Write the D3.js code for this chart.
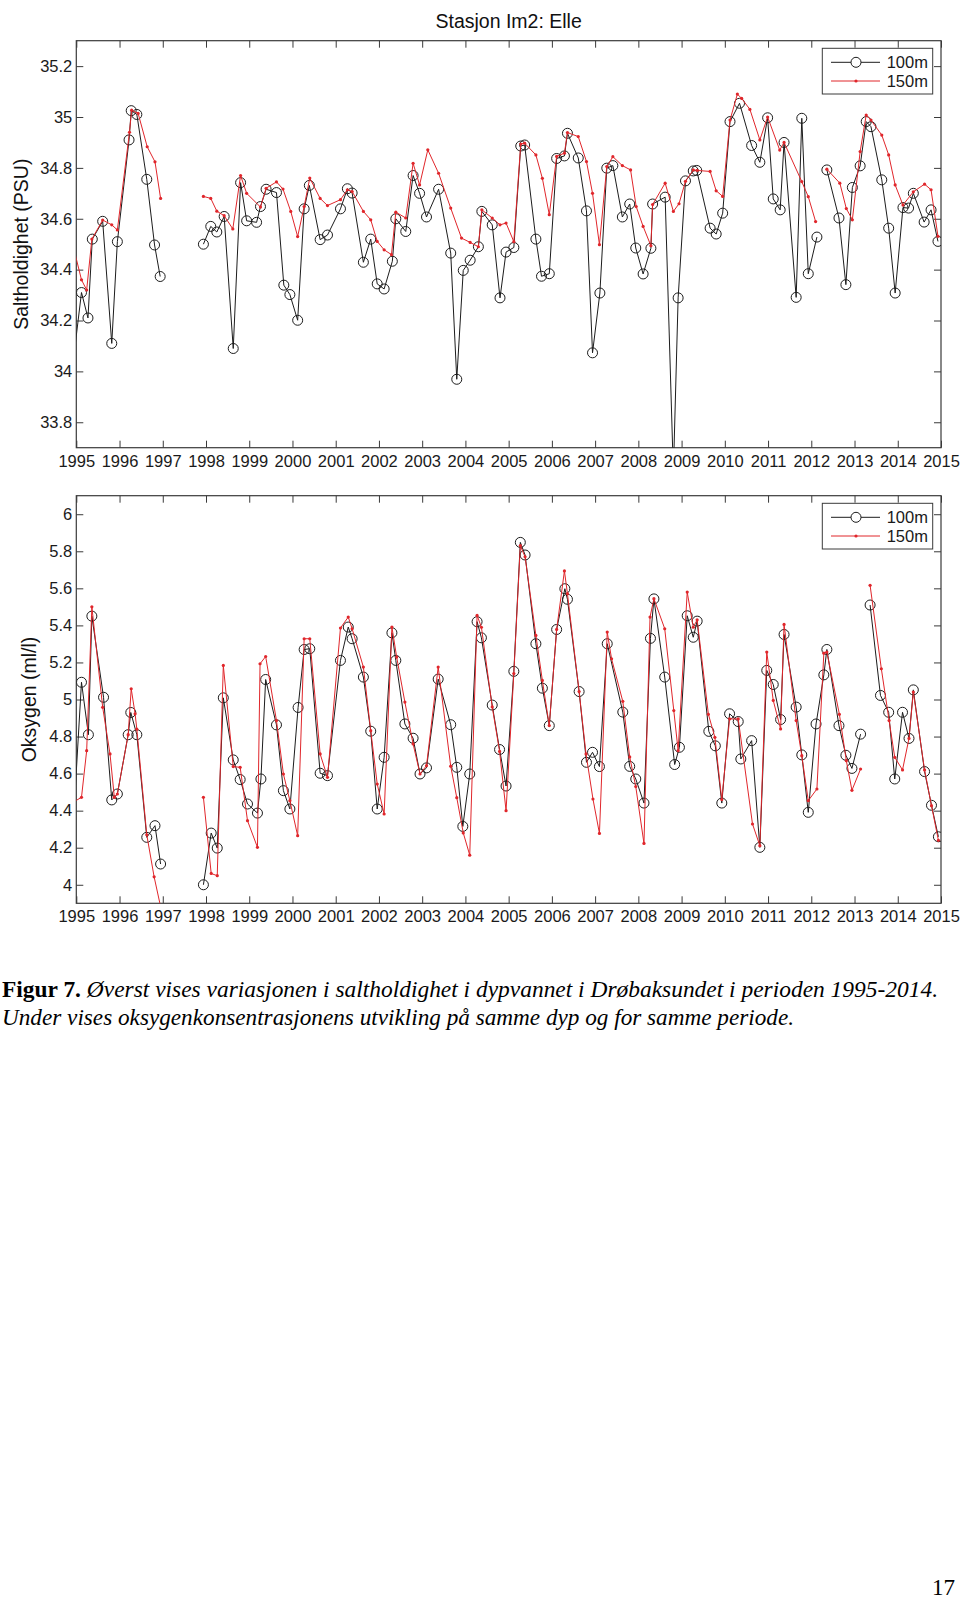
<!DOCTYPE html>
<html><head><meta charset="utf-8">
<script src="https://cdn.jsdelivr.net/npm/d3@7"></script>
<style>body{margin:0;background:#fff;} svg{display:block;}</style>
</head><body>
<svg id="c" width="960" height="1599"></svg>
<script>
// ---------- DATA ----------
const title = "Stasjon Im2: Elle";
const seriesNames = ["100m", "150m"];
const yearTicks = d3.range(1995, 2016);
const saltTicks = [33.8, 34, 34.2, 34.4, 34.6, 34.8, 35, 35.2];
const saltTickLabels = ["33.8", "34", "34.2", "34.4", "34.6", "34.8", "35", "35.2"];
const oxyTicks = [4, 4.2, 4.4, 4.6, 4.8, 5, 5.2, 5.4, 5.6, 5.8, 6];
const oxyTickLabels = ["4", "4.2", "4.4", "4.6", "4.8", "5", "5.2", "5.4", "5.6", "5.8", "6"];

// [decimal year, value]; null = gap in the record
const salt100 = [
  [1994.95,34.07],[1995.12,34.31],[1995.27,34.21],[1995.37,34.52],[1995.61,34.59],[1995.82,34.11],
  [1995.95,34.51],[1996.22,34.91],[1996.27,35.025],[1996.40,35.01],[1996.63,34.755],[1996.81,34.497],
  [1996.94,34.373], null,
  [1997.94,34.50],[1998.11,34.57],[1998.25,34.548],[1998.42,34.609],[1998.63,34.09],[1998.80,34.742],
  [1998.94,34.592],[1999.17,34.586],[1999.26,34.648],[1999.39,34.716],[1999.63,34.703],[1999.80,34.339],
  [1999.94,34.302],[2000.12,34.201],[2000.27,34.639],[2000.39,34.731],[2000.64,34.518],[2000.81,34.536],
  [2001.11,34.639],[2001.27,34.718],[2001.38,34.701],[2001.64,34.429],[2001.81,34.52],[2001.96,34.344],
  [2002.12,34.324],[2002.31,34.433],[2002.39,34.60],[2002.62,34.55],[2002.79,34.77],[2002.94,34.70],
  [2003.10,34.607],[2003.38,34.716],[2003.66,34.465],[2003.80,33.969],[2003.95,34.397],[2004.11,34.437],
  [2004.30,34.49],[2004.38,34.629],[2004.62,34.576],[2004.80,34.289],[2004.94,34.469],[2005.12,34.487],
  [2005.28,34.886],[2005.37,34.89],[2005.63,34.52],[2005.76,34.374],[2005.94,34.384],[2006.11,34.837],
  [2006.29,34.847],[2006.36,34.936],[2006.61,34.839],[2006.80,34.631],[2006.94,34.073],[2007.11,34.308],
  [2007.27,34.799],[2007.41,34.809],[2007.63,34.607],[2007.80,34.658],[2007.94,34.485],[2008.11,34.383],
  [2008.29,34.484],[2008.33,34.658],[2008.62,34.685],[2008.81,33.60],[2008.92,34.289],[2009.09,34.749],
  [2009.27,34.788],[2009.35,34.79],[2009.66,34.563],[2009.80,34.54],[2009.95,34.622],[2010.12,34.982],
  [2010.34,35.054],[2010.62,34.888],[2010.81,34.822],[2010.99,34.997],[2011.12,34.678],[2011.28,34.635],
  [2011.37,34.90],[2011.65,34.291],[2011.78,34.995],[2011.93,34.384],[2012.13,34.528], null,
  [2012.36,34.792],[2012.64,34.603],[2012.80,34.341],[2012.95,34.723],[2013.13,34.808],[2013.27,34.982],
  [2013.38,34.962],[2013.63,34.753],[2013.79,34.563],[2013.94,34.308],[2014.12,34.644],[2014.25,34.642],
  [2014.36,34.70],[2014.61,34.587],[2014.77,34.635],[2014.93,34.511]
];
const salt150 = [
  [1994.96,34.47],[1995.12,34.36],[1995.24,34.32],[1995.36,34.52],[1995.61,34.595],[1995.82,34.576],
  [1995.95,34.556],[1996.23,34.94],[1996.28,35.027],[1996.43,35.014],[1996.64,34.883],[1996.82,34.824],
  [1996.95,34.68], null,
  [1997.94,34.688],[1998.11,34.68],[1998.25,34.63],[1998.42,34.612],[1998.62,34.56],[1998.80,34.77],
  [1998.94,34.70],[1999.26,34.646],[1999.39,34.72],[1999.63,34.745],[1999.78,34.717],[1999.96,34.629],
  [2000.12,34.53],[2000.27,34.648],[2000.40,34.76],[2000.64,34.68],[2000.81,34.652],[2001.11,34.675],
  [2001.27,34.714],[2001.38,34.707],[2001.64,34.629],[2001.81,34.596],[2001.96,34.511],[2002.12,34.478],
  [2002.29,34.459],[2002.39,34.626],[2002.62,34.603],[2002.79,34.818],[2002.94,34.733],[2003.13,34.871],
  [2003.38,34.779],[2003.66,34.642],[2003.91,34.524],[2004.11,34.507],[2004.30,34.49],[2004.38,34.635],
  [2004.62,34.603],[2004.80,34.576],[2004.94,34.583],[2005.12,34.51],[2005.28,34.894],[2005.37,34.897],
  [2005.63,34.851],[2005.78,34.759],[2005.94,34.616],[2006.11,34.845],[2006.29,34.858],[2006.36,34.939],
  [2006.61,34.923],[2006.80,34.825],[2006.94,34.70],[2007.10,34.498],[2007.27,34.805],[2007.41,34.844],
  [2007.63,34.809],[2007.82,34.792],[2007.95,34.648],[2008.11,34.57],[2008.29,34.494],[2008.33,34.656],
  [2008.62,34.74],[2008.81,34.629],[2008.94,34.659],[2009.09,34.747],[2009.27,34.792],[2009.36,34.79],
  [2009.66,34.786],[2009.80,34.71],[2009.95,34.688],[2010.12,34.988],[2010.29,35.09],[2010.39,35.073],
  [2010.58,35.03],[2010.81,34.91],[2010.99,35.0],[2011.27,34.87],[2011.37,34.90],[2011.78,34.746],
  [2011.93,34.687],[2012.10,34.589], null,
  [2012.36,34.795],[2012.66,34.74],[2012.81,34.64],[2012.95,34.596],[2013.13,34.864],[2013.27,35.008],
  [2013.38,34.988],[2013.63,34.929],[2013.79,34.851],[2013.94,34.733],[2014.12,34.654],[2014.36,34.706],
  [2014.62,34.736],[2014.77,34.714],[2014.93,34.531]
];
const oxy100 = [
  [1994.96,4.45],[1995.12,5.093],[1995.28,4.81],[1995.36,5.45],[1995.63,5.012],[1995.82,4.458],
  [1995.95,4.49],[1996.20,4.81],[1996.26,4.93],[1996.40,4.81],[1996.63,4.256],[1996.82,4.319],
  [1996.95,4.112], null,
  [1997.94,4.00],[1998.12,4.279],[1998.26,4.198],[1998.40,5.009],[1998.63,4.674],[1998.79,4.568],
  [1998.96,4.436],[1999.19,4.387],[1999.27,4.571],[1999.38,5.108],[1999.63,4.863],[1999.79,4.508],
  [1999.94,4.409],[2000.13,4.957],[2000.27,5.27],[2000.40,5.274],[2000.64,4.602],[2000.81,4.589],
  [2001.11,5.211],[2001.29,5.391],[2001.38,5.328],[2001.64,5.121],[2001.81,4.829],[2001.96,4.409],
  [2002.12,4.688],[2002.30,5.36],[2002.39,5.211],[2002.60,4.868],[2002.79,4.791],[2002.95,4.598],
  [2003.10,4.631],[2003.37,5.11],[2003.66,4.864],[2003.80,4.634],[2003.94,4.315],[2004.10,4.598],
  [2004.27,5.42],[2004.37,5.333],[2004.62,4.97],[2004.79,4.73],[2004.94,4.533],[2005.12,5.152],
  [2005.27,5.848],[2005.38,5.78],[2005.63,5.301],[2005.78,5.061],[2005.94,4.859],[2006.11,5.378],
  [2006.30,5.598],[2006.36,5.541],[2006.63,5.043],[2006.80,4.661],[2006.94,4.715],[2007.10,4.638],
  [2007.28,5.301],[2007.64,4.932],[2007.80,4.639],[2007.94,4.571],[2008.13,4.441],[2008.28,5.33],
  [2008.36,5.543],[2008.61,5.121],[2008.84,4.649],[2008.95,4.742],[2009.13,5.452],[2009.27,5.336],
  [2009.36,5.423],[2009.63,4.828],[2009.78,4.75],[2009.93,4.441],[2010.11,4.923],[2010.31,4.881],
  [2010.37,4.679],[2010.62,4.778],[2010.81,4.202],[2010.97,5.157],[2011.12,5.081],[2011.29,4.892],
  [2011.37,5.351],[2011.65,4.959],[2011.78,4.701],[2011.93,4.391],[2012.11,4.868],[2012.29,5.133],
  [2012.36,5.27],[2012.64,4.859],[2012.80,4.699],[2012.94,4.628],[2013.14,4.813], null,
  [2013.36,5.51],[2013.60,5.022],[2013.79,4.931],[2013.93,4.571],[2014.11,4.931],[2014.26,4.79],
  [2014.36,5.052],[2014.62,4.611],[2014.78,4.429],[2014.94,4.259]
];
const oxy150 = [
  [1994.96,4.45],[1995.12,4.472],[1995.24,4.724],[1995.36,5.50],[1995.61,4.958],[1995.78,4.706],
  [1995.88,4.472],[1995.95,4.49],[1996.20,4.81],[1996.27,5.058],[1996.36,4.923],[1996.40,4.84],
  [1996.63,4.27],[1996.80,4.043],[1996.97,3.86], null,
  [1997.94,4.472],[1998.12,4.061],[1998.26,4.049],[1998.40,5.184],[1998.63,4.638],[1998.79,4.634],
  [1998.96,4.346],[1999.19,4.202],[1999.25,5.193],[1999.38,5.232],[1999.63,4.886],[1999.79,4.598],
  [1999.94,4.454],[2000.12,4.265],[2000.27,5.328],[2000.40,5.328],[2000.64,4.706],[2000.81,4.58],
  [2001.11,5.386],[2001.29,5.445],[2001.38,5.382],[2001.64,5.175],[2001.81,4.832],[2001.96,4.544],
  [2002.12,4.382],[2002.30,5.391],[2002.41,5.229],[2002.60,4.986],[2002.79,4.76],[2002.95,4.598],
  [2003.10,4.643],[2003.37,5.175],[2003.66,4.64],[2003.80,4.47],[2003.95,4.28],[2004.10,4.16],
  [2004.27,5.454],[2004.37,5.39],[2004.62,4.96],[2004.79,4.72],[2004.94,4.40],[2005.12,5.14],
  [2005.27,5.83],[2005.38,5.77],[2005.63,5.346],[2005.78,5.103],[2005.94,4.859],[2006.11,5.378],
  [2006.29,5.694],[2006.36,5.571],[2006.63,5.043],[2006.79,4.706],[2006.95,4.463],[2007.10,4.277],
  [2007.28,5.364],[2007.38,5.22],[2007.64,4.99],[2007.80,4.69],[2007.94,4.53],[2008.13,4.223],
  [2008.27,5.445],[2008.36,5.544],[2008.61,5.382],[2008.82,4.94],[2008.92,4.724],[2009.13,5.58],
  [2009.27,5.39],[2009.36,5.43],[2009.62,4.92],[2009.77,4.796],[2009.93,4.46],[2010.11,4.895],
  [2010.31,4.895],[2010.64,4.328],[2010.81,4.211],[2010.97,5.256],[2011.12,4.995],[2011.29,4.841],
  [2011.37,5.405],[2011.65,4.886],[2011.78,4.697],[2011.93,4.454],[2012.13,4.517],[2012.29,5.25],
  [2012.36,5.256],[2012.65,4.92],[2012.81,4.67],[2012.94,4.51],[2013.14,4.625], null,
  [2013.36,5.616],[2013.62,5.166],[2013.80,4.886],[2013.93,4.688],[2014.11,4.62],[2014.26,4.79],
  [2014.36,5.04],[2014.62,4.62],[2014.78,4.427],[2014.94,4.24]
];
const captionBold = "Figur 7.";
const captionLine1 = " Øverst vises variasjonen i saltholdighet i dypvannet i Drøbaksundet i perioden 1995-2014.";
const captionLine2 = "Under vises oksygenkonsentrasjonens utvikling på samme dyp og for samme periode.";
const pageNumber = "17";

// ---------- LAYOUT ----------
const svg = d3.select("#c");
const xLeft = 76.3, xRight = 941;
const x = d3.scaleLinear().domain([1995, 2015]).range([xLeft, xRight]);
const BLACK = "#1c1c1c", RED = "#e0262b", FRAME = "#3a3a3a";
const tickFont = "'Liberation Sans', Arial, sans-serif";
const inDomain = d => d && d[0] >= 1995 && d[0] <= 2015;

const panels = [
  {id: "p1", top: 40.7, bottom: 447.7, domain: [33.7, 35.3], ticks: saltTicks, labels: saltTickLabels,
   s100: salt100, s150: salt150, ylabel: "Saltholdighet (PSU)", ylabX: 28, xPad: 7.5},
  {id: "p2", top: 495.7, bottom: 903.3, domain: [3.9, 6.1], ticks: oxyTicks, labels: oxyTickLabels,
   s100: oxy100, s150: oxy150, ylabel: "Oksygen (ml/l)", ylabX: 36, xPad: 6.5}
];

svg.append("text").attr("x", (xLeft + xRight) / 2).attr("y", 28.3)
  .attr("text-anchor", "middle").attr("font-family", tickFont).attr("font-size", 19.5)
  .attr("fill", "#111").text(title);

panels.forEach(p => {
  const y = d3.scaleLinear().domain(p.domain).range([p.bottom, p.top]);
  const g = svg.append("g");
  g.append("clipPath").attr("id", "clip-" + p.id).append("rect")
    .attr("x", xLeft).attr("y", p.top).attr("width", xRight - xLeft).attr("height", p.bottom - p.top);

  // axes (inward ticks, mirrored)
  const ax = g.append("g").attr("font-family", tickFont);
  ax.append("g").attr("transform", `translate(0,${p.bottom})`)
    .call(d3.axisBottom(x).tickValues(yearTicks).tickFormat(d3.format("d")).tickSize(-7).tickSizeOuter(0).tickPadding(p.xPad));
  ax.append("g").attr("transform", `translate(0,${p.top})`)
    .call(d3.axisTop(x).tickValues(yearTicks).tickFormat("").tickSize(-7).tickSizeOuter(0));
  ax.append("g").attr("transform", `translate(${xLeft},0)`)
    .call(d3.axisLeft(y).tickValues(p.ticks).tickFormat((d, i) => p.labels[i]).tickSize(-7).tickSizeOuter(0).tickPadding(4));
  ax.append("g").attr("transform", `translate(${xRight},0)`)
    .call(d3.axisRight(y).tickValues(p.ticks).tickFormat("").tickSize(-7).tickSizeOuter(0));
  ax.selectAll(".domain").remove();
  ax.selectAll(".tick line").attr("stroke", FRAME).attr("stroke-width", 1);
  ax.selectAll(".tick text").attr("font-size", 16.5).attr("fill", "#1a1a1a");
  g.append("rect").attr("x", xLeft).attr("y", p.top).attr("width", xRight - xLeft).attr("height", p.bottom - p.top)
    .attr("fill", "none").attr("stroke", FRAME).attr("stroke-width", 1.2);

  // y label
  const cy = (p.top + p.bottom) / 2;
  g.append("text").attr("transform", `translate(${p.ylabX},${cy}) rotate(-90)`)
    .attr("text-anchor", "middle").attr("font-family", tickFont).attr("font-size", 19.5)
    .attr("fill", "#111").text(p.ylabel);

  // data
  const line = d3.line().defined(d => d !== null).x(d => x(d[0])).y(d => y(d[1]));
  const plot = g.append("g").attr("clip-path", `url(#clip-${p.id})`);
  plot.append("path").datum(p.s100).attr("d", line).attr("fill", "none")
    .attr("stroke", BLACK).attr("stroke-width", 1);
  plot.selectAll("circle.c100").data(p.s100.filter(inDomain)).join("circle").attr("class", "c100")
    .attr("cx", d => x(d[0])).attr("cy", d => y(d[1])).attr("r", 5)
    .attr("fill", "none").attr("stroke", BLACK).attr("stroke-width", 1);
  plot.append("path").datum(p.s150).attr("d", line).attr("fill", "none")
    .attr("stroke", RED).attr("stroke-width", 1);
  plot.selectAll("circle.c150").data(p.s150.filter(inDomain)).join("circle").attr("class", "c150")
    .attr("cx", d => x(d[0])).attr("cy", d => y(d[1])).attr("r", 1.6).attr("fill", RED);

  // legend
  const lx = 822.3, ly = p.top + 7.6, lw = 110.4, lh = 45.7;
  const lg = g.append("g");
  lg.append("rect").attr("x", lx).attr("y", ly).attr("width", lw).attr("height", lh)
    .attr("fill", "#fff").attr("stroke", FRAME).attr("stroke-width", 1);
  seriesNames.forEach((name, i) => {
    const yy = ly + 14 + i * 18.7;
    const col = i === 0 ? BLACK : RED;
    lg.append("line").attr("x1", lx + 8.7).attr("x2", lx + 57.7).attr("y1", yy).attr("y2", yy)
      .attr("stroke", col).attr("stroke-width", 1);
    if (i === 0) {
      lg.append("circle").attr("cx", lx + 33.7).attr("cy", yy).attr("r", 5)
        .attr("fill", "#fff").attr("stroke", col).attr("stroke-width", 1);
    } else {
      lg.append("circle").attr("cx", lx + 33.7).attr("cy", yy).attr("r", 1.6).attr("fill", col);
    }
    lg.append("text").attr("x", lx + 64.4).attr("y", yy).attr("dy", "0.35em")
      .attr("font-family", tickFont).attr("font-size", 16.5).attr("fill", "#1a1a1a").text(name);
  });
});

// caption
const serif = "'Liberation Serif', 'Times New Roman', serif";
const t1 = svg.append("text").attr("x", 2).attr("y", 997).attr("font-family", serif).attr("font-size", 24)
  .attr("fill", "#000").attr("textLength", 936).attr("lengthAdjust", "spacingAndGlyphs");
t1.append("tspan").attr("font-weight", "bold").text(captionBold);
t1.append("tspan").attr("font-style", "italic").text(captionLine1);
svg.append("text").attr("x", 2).attr("y", 1025).attr("font-family", serif).attr("font-size", 24)
  .attr("font-style", "italic").attr("fill", "#000")
  .attr("textLength", 792).attr("lengthAdjust", "spacingAndGlyphs").text(captionLine2);
svg.append("text").attr("x", 955).attr("y", 1595).attr("text-anchor", "end").attr("font-family", serif)
  .attr("font-size", 23).attr("fill", "#000").text(pageNumber);
</script>
</body></html>
